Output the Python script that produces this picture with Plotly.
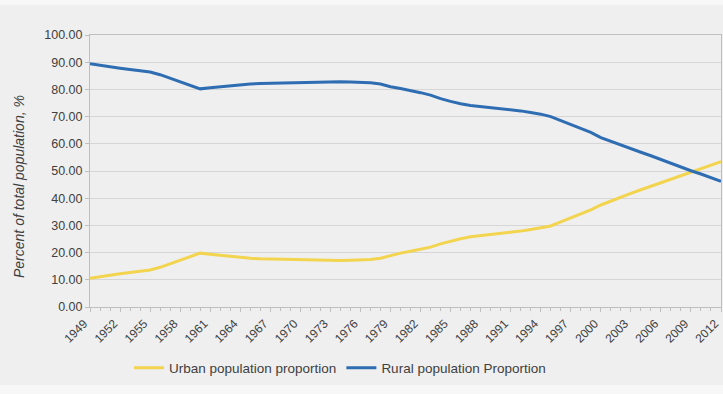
import plotly.graph_objects as go

years = list(range(1949, 2013))

urban = [10.6, 11.2, 11.7, 12.2, 12.7, 13.1, 13.6, 14.6, 15.9, 17.2,
         18.6, 19.8, 19.4, 19.0, 18.5, 18.2, 17.9, 17.7, 17.6, 17.5,
         17.4, 17.3, 17.2, 17.1, 17.0, 17.1, 17.2, 17.3, 17.5, 17.9,
         18.9, 19.8, 20.5, 21.3, 22.0, 23.2, 24.2, 25.1, 25.8, 26.2,
         26.6, 26.9, 27.3, 27.9, 28.5, 29.1, 29.8, 31.3, 32.8, 34.2,
         35.7, 37.5, 39.0, 40.5, 41.8, 43.1, 44.4, 45.7, 47.0, 48.2,
         49.5, 50.8, 52.1, 53.4]

rural = [89.4, 88.8, 88.3, 87.8, 87.3, 86.9, 86.4, 85.4, 84.1, 82.8,
         81.4, 80.2, 80.6, 81.0, 81.4, 81.8, 82.0, 82.2, 82.3, 82.4,
         82.5, 82.6, 82.7, 82.8, 82.9, 82.8, 82.7, 82.6, 82.4, 82.0,
         81.0, 80.3, 79.6, 78.8, 77.9, 76.6, 75.6, 74.7, 74.1, 73.7,
         73.4, 73.1, 72.7, 72.1, 71.5, 70.9, 70.0, 68.6, 67.2, 65.7,
         64.2, 62.3, 60.9, 59.6, 58.2, 56.9, 55.6, 54.2, 52.9, 51.3,
         50.1, 48.9, 47.6, 46.2]

tick_years = list(range(1949, 2013, 3))
tick_labels = [str(y) for y in tick_years]

FONT = "Liberation Sans, Arial, sans-serif"
TXT = "#404040"

fig = go.Figure()
fig.add_trace(go.Scatter(x=years, y=urban, mode="lines",
                         name="Urban population proportion",
                         line=dict(color="#F3D44E", width=3), cliponaxis=False))
fig.add_trace(go.Scatter(x=years, y=rural, mode="lines",
                         name="Rural population Proportion",
                         line=dict(color="#2F6DB3", width=3), cliponaxis=False))

W, H = 723, 394
L, R, T, B = 90, 2, 35, 87
pw, ph = W - L - R, H - T - B

def px_to_paper_x(px):
    return (px - L) / pw

def px_to_paper_y(py):
    return (H - B - py) / ph

fig.update_layout(
    width=W, height=H,
    margin=dict(l=L, r=R, t=T, b=B, autoexpand=False),
    paper_bgcolor="#EFEFEF",
    plot_bgcolor="#EFEFEF",
    font=dict(family=FONT, color=TXT, size=10),
    showlegend=True,
    legend=dict(orientation="h", x=px_to_paper_x(340), xanchor="center",
                y=px_to_paper_y(368), yanchor="middle",
                font=dict(size=13.5, color=TXT),
                bgcolor="rgba(0,0,0,0)"),
    shapes=[
        dict(type="rect", xref="paper", yref="paper",
             x0=px_to_paper_x(0), x1=px_to_paper_x(W),
             y0=px_to_paper_y(0), y1=px_to_paper_y(5),
             fillcolor="#F7F7F7", line=dict(width=0), layer="below"),
        dict(type="rect", xref="paper", yref="paper",
             x0=px_to_paper_x(0), x1=px_to_paper_x(W),
             y0=px_to_paper_y(385), y1=px_to_paper_y(H),
             fillcolor="#F7F7F7", line=dict(width=0), layer="below"),
    ],
    annotations=[
        dict(text="<i>Percent of total population, %</i>", xref="paper", yref="paper",
             x=px_to_paper_x(19), y=px_to_paper_y(187), textangle=-90,
             showarrow=False, font=dict(size=14, color=TXT),
             xanchor="center", yanchor="middle"),
    ],
)

fig.update_xaxes(
    range=[1949, 2012], tickmode="array", tickvals=tick_years, ticktext=tick_labels,
    tickangle=-45, showgrid=False, zeroline=False, automargin=False,
    ticklabeloverflow="allow", ticklabelshift=-6,
    showline=True, linecolor="#BFBFBF", linewidth=1, mirror=True,
    ticks="outside", ticklen=4, tickcolor="#BFBFBF",
    minor=dict(dtick=1, ticks="outside", ticklen=3, tickcolor="#BFBFBF", showgrid=False),
    tickfont=dict(size=12, color=TXT),
)
fig.update_yaxes(
    range=[0, 100], dtick=10, tickformat=".2f",
    showgrid=True, gridcolor="#D6D6D6", gridwidth=1, zeroline=False, automargin=False,
    showline=True, linecolor="#BFBFBF", linewidth=1, mirror=True,
    ticks="outside", ticklen=4, tickcolor="#BFBFBF",
    tickfont=dict(size=12.5, color=TXT),
)

fig.write_html("out.html", config={"displayModeBar": False},
               post_script="document.body.style.margin='0';document.body.style.overflow='hidden';")
